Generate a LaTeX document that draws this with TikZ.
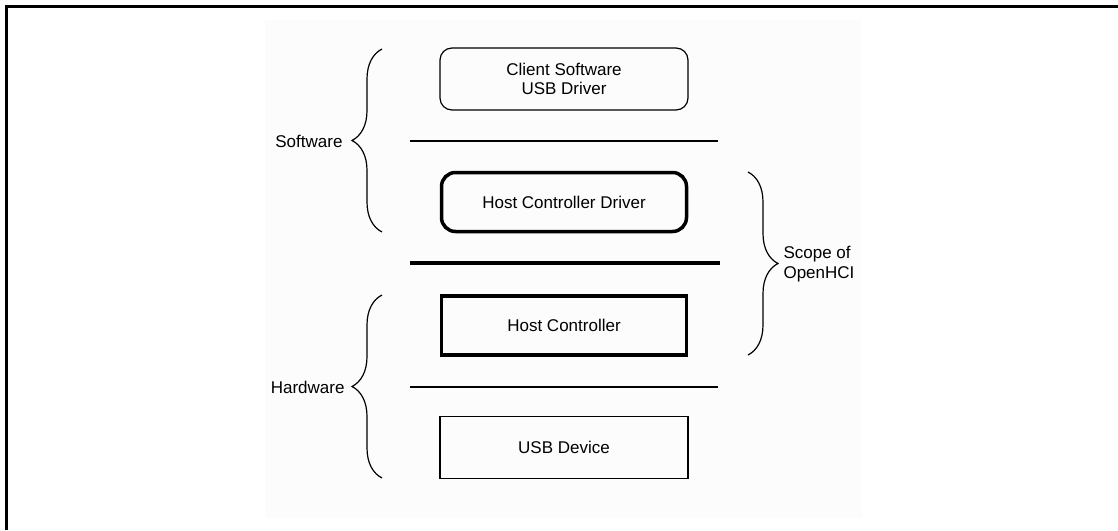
\documentclass[tikz,border=0pt]{standalone}
\usepackage{fontspec}
\setmainfont{Liberation Sans}
\usetikzlibrary{positioning,decorations.pathreplacing}

\begin{document}
\begin{tikzpicture}[x=1pt,y=-1pt,
    every node/.style={font=\fontsize{17}{19.5}\selectfont},
    layer/.style={draw, minimum width=248pt, minimum height=62pt, align=center, line width=1.2pt},
    hcilayer/.style={layer, minimum width=245pt, minimum height=59pt, line width=3.5pt},
    sep/.style={line width=1.3pt},
    curly/.style={decorate, decoration={brace, amplitude=30pt}, line width=1.2pt}]
\useasboundingbox (0,0) rectangle (1118,530);
\fill[black!1] (265,20) rectangle (862,518);
\draw[line width=3pt] (6,530) -- (6,6) -- (1118,6);

% layers
\node[layer, rounded corners=12pt] (client) at (564,79) {Client Software\\USB Driver};
\node[hcilayer, rounded corners=14pt] (hcd) at (564,202) {Host Controller Driver};
\node[hcilayer] (hc) at (564,325.5) {Host Controller};
\node[layer] (dev) at (564,447.5) {USB Device};

% separators
\draw[sep] (410,141) -- (718,141);
\draw[line width=4pt] (410,263) -- (720,263);
\draw[sep] (410,387) -- (718,387);

% braces
\draw[curly] (382,232) -- (382,49);
\node[anchor=east] (sw) at (346,141) {Software};
\draw[curly] (382,478) -- (382,295);
\node[anchor=east] (hw) at (348,387) {Hardware};
\draw[curly] (748,172) -- (748,355);
\node[anchor=west, align=left] (scope) at (780,264) {Scope of\\OpenHCI};

\end{tikzpicture}
\end{document}
